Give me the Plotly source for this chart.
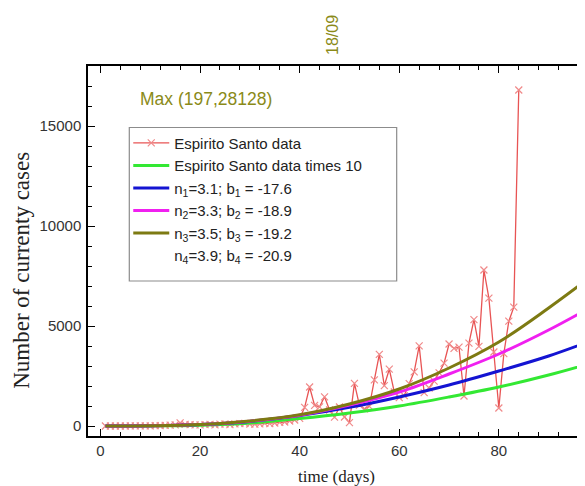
import plotly.graph_objects as go

# ---- data ----
days = list(range(1, 85))
cases = [0, 0, 0, 1, 2, 3, 5, 6, 8, 10,
         15, 20, 30, 45, 60, 160, 80, 70, 60, 60,
         70, 80, 60, 90, 100, 70, 110, 120, 130, 100,
         90, 110, 130, 120, 150, 180, 200, 250, 300, 380,
         930, 1950, 1030, 960, 1460, 800, 440, 950, 450, 170,
         2130, 1040, 860, 980, 2310, 3580, 2020, 2840, 1700, 1420,
         1520, 2120, 2710, 4010, 1670, 1900, 2240, 2660, 3140, 4100,
         3880, 3940, 1500, 4140, 5320, 3980, 7800, 6390, 3700, 900,
         3620, 5240, 5940, 16800]

model_t = [1, 10, 20, 30, 40, 50, 60, 70, 80, 90, 100]
green_vals = [0, 5, 40, 150, 370, 650, 1000, 1450, 1950, 2550, 3250]
blue_vals = [0, 10, 70, 230, 520, 930, 1450, 2050, 2750, 3500, 4400]
magenta_vals = [0, 10, 70, 240, 540, 1050, 1700, 2600, 3600, 4800, 6150]
olive_vals = [0, 10, 70, 250, 560, 1100, 1850, 2900, 4200, 5900, 7750]

names = ["Espirito Santo data",
         "Espirito Santo data times 10",
         "n<sub>1</sub>=3.1; b<sub>1</sub> = -17.6",
         "n<sub>2</sub>=3.3; b<sub>2</sub> = -18.9",
         "n<sub>3</sub>=3.5; b<sub>3</sub> = -19.2",
         "n<sub>4</sub>=3.9; b<sub>4</sub> = -20.9"]

x_ticks = [0, 20, 40, 60, 80]
y_ticks = [0, 5000, 10000, 15000]

OLIVE_TXT = "#8a8a18"
SANS = "Liberation Sans, Arial, sans-serif"
SERIF = "Liberation Serif, Times New Roman, serif"

fig = go.Figure()

fig.add_trace(go.Scatter(
    x=days, y=cases, mode="lines+markers", name=names[0],
    line=dict(color="#e85454", width=1.3),
    marker=dict(symbol="x-thin", size=7, color="#f08a8a",
                line=dict(width=1.2, color="#f08a8a"))))

curve_styles = [(green_vals, "#33e833", names[1]),
                (blue_vals, "#1414d2", names[2]),
                (magenta_vals, "#f020f0", names[3]),
                (olive_vals, "#7d7a12", names[4])]
for vals, col, nm in curve_styles:
    fig.add_trace(go.Scatter(x=model_t, y=vals, mode="lines", name=nm,
                             line=dict(color=col, width=3, shape="spline")))

# n4 entry (no visible curve in the reference)
fig.add_trace(go.Scatter(x=[None], y=[None], mode="lines", name=names[5],
                         line=dict(color="rgba(255,255,255,0)", width=3)))

axis_common = dict(showline=True, linecolor="black", linewidth=1.5,
                   mirror="ticks", ticks="inside", ticklen=7, tickwidth=1.3,
                   tickcolor="black", showgrid=False, zeroline=False,
                   automargin=False, tickformat="d",
                   tickfont=dict(family=SANS, size=15, color="#333333"))

fig.update_xaxes(range=[-2.5, 97.3], tickvals=x_ticks,
                 minor=dict(dtick=4, tick0=0, ticks="inside", ticklen=4,
                            tickwidth=1.1, tickcolor="black"),
                 title=dict(text="time (days)",
                            font=dict(family=SERIF, size=17, color="#222"),
                            standoff=14),
                 **axis_common)
fig.update_yaxes(range=[-500, 18000], tickvals=y_ticks,
                 minor=dict(dtick=1000, tick0=0, ticks="inside", ticklen=4,
                            tickwidth=1.1, tickcolor="black"),
                 ticklabelstandoff=2,
                 **axis_common)

# y-axis title (placed as in the reference, below the plot centre)
fig.add_annotation(text="Number of currenty cases", xref="paper", yref="paper",
                   x=-0.133, y=0.449, xanchor="center", yanchor="middle",
                   textangle=-90, showarrow=False,
                   font=dict(family=SERIF, size=23, color="#222"))

# legend frame
fig.add_shape(type="rect", xref="paper", yref="paper",
              x0=0.0831, x1=0.6211, y0=0.4189, y1=0.8338,
              line=dict(color="#8c8c8c", width=1.2), fillcolor="rgba(0,0,0,0)")

fig.add_annotation(text="Max (197,28128)", x=21.2, y=16350, xref="x", yref="y",
                   showarrow=False, font=dict(family=SANS, size=17.5, color=OLIVE_TXT))
fig.add_annotation(text="18/09", x=46.7, y=1.084, xref="x", yref="paper",
                   xanchor="center", yanchor="middle",
                   textangle=-90, showarrow=False,
                   font=dict(family=SANS, size=16, color=OLIVE_TXT))

# the page body adds an 8px offset; the figure is sized so the page is 585x486
fig.update_layout(
    width=577, height=478,
    margin=dict(l=80, r=0, t=58, b=50, autoexpand=False),
    paper_bgcolor="white", plot_bgcolor="white",
    showlegend=True,
    legend=dict(x=0.081, y=0.836, xanchor="left", yanchor="top",
                bgcolor="rgba(0,0,0,0)", borderwidth=0,
                font=dict(family=SANS, size=15, color="#222"),
                tracegroupgap=0, itemwidth=36),
)

fig.write_html("out.html")
